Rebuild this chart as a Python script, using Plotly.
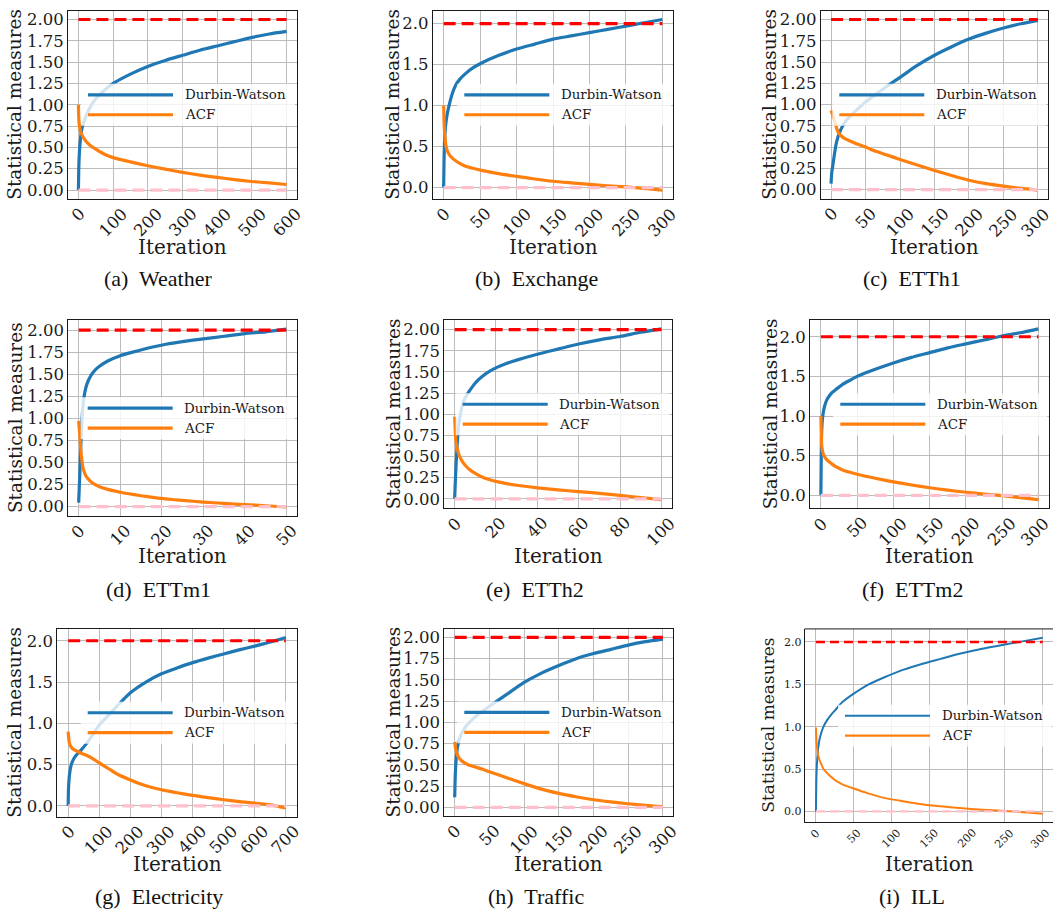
import plotly.graph_objects as go

W, H = 1053, 913
SERIF = "DejaVu Serif"
CAPFONT = "Liberation Serif"

# ---------------- data ----------------
captions = ["(a)\u00a0 Weather", "(b)\u00a0 Exchange", "(c)\u00a0 ETTh1",
            "(d)\u00a0 ETTm1", "(e)\u00a0 ETTh2", "(f)\u00a0 ETTm2",
            "(g)\u00a0 Electricity", "(h)\u00a0 Traffic", "(i)\u00a0 ILL"]
series_names = ["Durbin-Watson", "ACF"]
x_title = "Iteration"
y_title = "Statistical measures"

weather_x = [0, 1, 3, 6, 10, 20, 35, 50, 75, 100, 150, 200, 250, 300, 350, 400, 450, 500, 550, 600]
weather_dw = [0.0, 0.25, 0.45, 0.6, 0.72, 0.85, 0.98, 1.07, 1.17, 1.25, 1.36, 1.45, 1.52, 1.58, 1.64, 1.69, 1.74, 1.79, 1.83, 1.86]
weather_acf = [1.0, 0.85, 0.75, 0.69, 0.65, 0.58, 0.52, 0.48, 0.42, 0.38, 0.33, 0.285, 0.245, 0.207, 0.175, 0.148, 0.123, 0.10, 0.083, 0.065]

exchange_x = [0, 0.5, 1, 2, 3, 5, 8, 12, 16, 22, 30, 40, 52, 75, 100, 125, 150, 175, 200, 225, 250, 275, 300]
exchange_dw = [0.0, 0.3, 0.5, 0.68, 0.78, 0.9, 1.02, 1.15, 1.24, 1.32, 1.39, 1.46, 1.52, 1.61, 1.69, 1.75, 1.81, 1.85, 1.89, 1.93, 1.97, 2.01, 2.05]
exchange_acf = [1.0, 0.85, 0.72, 0.6, 0.52, 0.45, 0.40, 0.36, 0.33, 0.295, 0.26, 0.235, 0.21, 0.17, 0.137, 0.105, 0.077, 0.058, 0.04, 0.022, 0.008, -0.01, -0.03]

etth1_x = [0, 1, 2.5, 5, 7.5, 10, 15, 20, 25, 35, 50, 65, 80, 100, 125, 150, 175, 200, 225, 250, 275, 300]
etth1_dw = [0.07, 0.2, 0.28, 0.42, 0.54, 0.62, 0.72, 0.79, 0.84, 0.92, 1.03, 1.12, 1.21, 1.32, 1.46, 1.58, 1.68, 1.77, 1.84, 1.9, 1.95, 1.99]
etth1_acf = [0.93, 0.91, 0.88, 0.81, 0.74, 0.68, 0.63, 0.6, 0.58, 0.545, 0.50, 0.45, 0.41, 0.355, 0.29, 0.225, 0.165, 0.11, 0.07, 0.04, 0.015, -0.005]

ettm1_x = [0, 0.25, 0.5, 0.75, 1, 1.5, 2, 3, 4, 5, 7, 10, 13, 17, 21, 25, 30, 35, 40, 45, 50]
ettm1_dw = [0.045, 0.35, 0.68, 0.95, 1.12, 1.3, 1.39, 1.49, 1.55, 1.59, 1.65, 1.71, 1.75, 1.80, 1.84, 1.87, 1.90, 1.93, 1.96, 1.98, 2.01]
ettm1_acf = [0.97, 0.82, 0.65, 0.53, 0.45, 0.37, 0.33, 0.28, 0.25, 0.226, 0.195, 0.163, 0.138, 0.11, 0.087, 0.07, 0.052, 0.036, 0.022, 0.01, -0.004]

etth2_x = [0, 0.5, 1, 2, 3, 4, 5, 7, 10, 13, 17, 21, 25, 30, 40, 50, 60, 70, 80, 90, 100]
etth2_dw = [0.0, 0.3, 0.55, 0.88, 1.03, 1.13, 1.19, 1.27, 1.37, 1.44, 1.51, 1.56, 1.6, 1.64, 1.71, 1.77, 1.83, 1.88, 1.92, 1.97, 2.01]
etth2_acf = [0.97, 0.72, 0.62, 0.53, 0.47, 0.43, 0.40, 0.35, 0.30, 0.26, 0.225, 0.20, 0.18, 0.16, 0.13, 0.105, 0.085, 0.065, 0.04, 0.015, -0.01]

ettm2_x = [0, 0.5, 1, 2, 3, 5, 8, 12, 16, 20, 30, 40, 50, 75, 100, 125, 150, 175, 200, 225, 250, 275, 300]
ettm2_dw = [0.0, 0.5, 0.78, 0.95, 1.03, 1.12, 1.2, 1.26, 1.3, 1.33, 1.4, 1.45, 1.5, 1.59, 1.67, 1.74, 1.8, 1.86, 1.91, 1.96, 2.01, 2.05, 2.10]
ettm2_acf = [1.0, 0.8, 0.65, 0.57, 0.53, 0.49, 0.45, 0.42, 0.39, 0.365, 0.32, 0.29, 0.265, 0.215, 0.17, 0.13, 0.095, 0.065, 0.038, 0.015, -0.005, -0.03, -0.055]

electricity_x = [0, 1, 3, 6, 10, 15, 25, 40, 60, 80, 100, 130, 160, 200, 250, 300, 350, 400, 450, 500, 550, 600, 650, 700]
electricity_dw = [0.0, 0.2, 0.33, 0.43, 0.5, 0.55, 0.61, 0.67, 0.76, 0.87, 0.98, 1.10, 1.22, 1.37, 1.50, 1.60, 1.67, 1.735, 1.79, 1.84, 1.89, 1.935, 1.985, 2.04]
electricity_acf = [0.9, 0.85, 0.78, 0.74, 0.71, 0.69, 0.67, 0.64, 0.61, 0.57, 0.52, 0.45, 0.38, 0.315, 0.245, 0.195, 0.16, 0.127, 0.10, 0.075, 0.052, 0.033, 0.012, -0.025]

traffic_x = [0, 0.5, 1, 2, 3.5, 5, 7.5, 10, 15, 20, 30, 40, 50, 75, 100, 125, 150, 175, 200, 225, 250, 275, 300]
traffic_dw = [0.12, 0.3, 0.42, 0.56, 0.68, 0.75, 0.82, 0.87, 0.94, 0.99, 1.07, 1.13, 1.19, 1.33, 1.47, 1.58, 1.67, 1.75, 1.81, 1.86, 1.91, 1.95, 1.98]
traffic_acf = [0.77, 0.74, 0.71, 0.67, 0.63, 0.6, 0.57, 0.55, 0.52, 0.5, 0.475, 0.45, 0.42, 0.35, 0.28, 0.215, 0.165, 0.125, 0.09, 0.065, 0.043, 0.024, 0.008]

ill_x = [0, 0.5, 1, 2, 3, 5, 7.5, 10, 15, 20, 25, 35, 50, 70, 90, 115, 140, 165, 190, 220, 250, 275, 300]
ill_dw = [0.0, 0.35, 0.5, 0.65, 0.75, 0.86, 0.94, 1.0, 1.08, 1.14, 1.19, 1.29, 1.39, 1.5, 1.58, 1.67, 1.74, 1.8, 1.86, 1.92, 1.97, 2.01, 2.05]
ill_acf = [0.99, 0.88, 0.8, 0.71, 0.66, 0.6, 0.55, 0.5, 0.45, 0.41, 0.37, 0.32, 0.27, 0.21, 0.16, 0.12, 0.085, 0.06, 0.04, 0.02, 0.005, -0.01, -0.027]

reference_levels = [2.0, 0.0]

x_tick_steps = [100, 50, 50, 10, 20, 50, 100, 50, 50]
y_tick_steps = [0.25, 0.5, 0.25, 0.25, 0.25, 0.5, 0.5, 0.25, 0.5]

datasets = [
    (weather_x, weather_dw, weather_acf),
    (exchange_x, exchange_dw, exchange_acf),
    (etth1_x, etth1_dw, etth1_acf),
    (ettm1_x, ettm1_dw, ettm1_acf),
    (etth2_x, etth2_dw, etth2_acf),
    (ettm2_x, ettm2_dw, ettm2_acf),
    (electricity_x, electricity_dw, electricity_acf),
    (traffic_x, traffic_dw, traffic_acf),
    (ill_x, ill_dw, ill_acf),
]

# ---------------- layout geometry (pixels) ----------------
# plot boxes: left, right, top, bottom
boxes = [
    (68, 297, 10, 198), (432.7, 673.3, 10, 198), (820.7, 1048.3, 10, 198),
    (68.3, 296.7, 320, 516), (444.3, 671.7, 320, 508.3), (810, 1049.3, 320, 508.3),
    (57.3, 296.7, 629.3, 817.3), (444.3, 673.3, 629.3, 816.7), (804.6, 1054, 629.3, 823.3),
]
ytitle_cx = [15, 393, 770, 15, 393, 770, 15, 393, 768]
xtitle_cy = [246.7] * 3 + [556.7] * 3 + [865] * 3
cap_cx = [158, 536, 912, 158, 535, 912, 159, 536, 912]
cap_cy = [278] * 3 + [590] * 3 + [897] * 3

BLUE, ORANGE, RED, PINK = "#1f77b4", "#ff7f0e", "#ff0000", "#ffc0cb"
GRID = "#bcbcbc"
INK = "#1a1a1a"


def px(x):
    return x / W


def py(y):
    return 1 - y / H


fig = go.Figure()
shapes = []
annotations = []

for i, ((xs, dw, acf), box) in enumerate(zip(datasets, boxes)):
    k = i + 1
    xa = f"x{k}" if k > 1 else "x"
    ya = f"y{k}" if k > 1 else "y"
    last = i == 8
    lw = 2.0 if last else 3.2
    dash = "9px,5px" if last else "12px,6px"
    tfs = 11 if last else 16.5

    n = xs[-1]
    x0r, x1r = -0.05 * n, 1.05 * n
    ymin = min(min(dw), min(acf), min(reference_levels))
    ymax = max(max(dw), max(acf), max(reference_levels))
    pad = 0.05 * (ymax - ymin)
    l, r, t, b = box
    r_vis = min(r, W)
    x1_vis = x0r + (x1r - x0r) * (r_vis - l) / (r - l)
    xticks = list(range(0, int(n) + 1, x_tick_steps[i]))

    fig.add_trace(go.Scatter(x=xs, y=dw, mode="lines", name=series_names[0],
                             line=dict(color=BLUE, width=lw, shape="spline", smoothing=0.6),
                             xaxis=xa, yaxis=ya, showlegend=False))
    fig.add_trace(go.Scatter(x=xs, y=acf, mode="lines", name=series_names[1],
                             line=dict(color=ORANGE, width=lw, shape="spline", smoothing=0.6),
                             xaxis=xa, yaxis=ya, showlegend=False))
    for lev, col in zip(reference_levels, [RED, PINK]):
        fig.add_trace(go.Scatter(x=[xs[0], xs[-1]], y=[lev, lev], mode="lines",
                                 line=dict(color=col, width=lw + (0.4 if last else 0), dash=dash),
                                 xaxis=xa, yaxis=ya, showlegend=False, hoverinfo="skip"))

    axcommon = dict(showgrid=True, gridcolor=GRID, gridwidth=1.2, zeroline=False,
                    showline=True, linecolor=INK, linewidth=1, ticks="",
                    tickfont=dict(family=SERIF, size=tfs, color=INK))
    fig.layout[f"xaxis{k}" if k > 1 else "xaxis"] = dict(
        axcommon, domain=[px(l), px(r_vis)], range=[x0r, x1_vis], anchor=ya,
        tickmode="array", tickvals=xticks, showticklabels=False, mirror=not last)
    fig.layout[f"yaxis{k}" if k > 1 else "yaxis"] = dict(
        axcommon, domain=[py(b), py(t)], range=[ymin - pad, ymax + pad], anchor=xa,
        tick0=0, dtick=y_tick_steps[i],
        tickformat=".2f" if y_tick_steps[i] == 0.25 else ".1f", mirror=not last)
    if last:
        shapes.append(dict(type="line", xref="paper", yref="paper", x0=px(l), x1=1,
                           y0=py(t), y1=py(t), line=dict(color=INK, width=1)))

    # rotated x tick labels, centred under each tick (matplotlib rotation=45)
    for tv in xticks:
        label = str(tv)
        tick_px = l + (tv - x0r) / (x1r - x0r) * (r - l)
        half = (len(label) * 0.636 * tfs + 0.75 * tfs) * 0.707 / 2
        overflow = tick_px + half - (W - 2)
        annotations.append(dict(text=label, xref=xa, yref=f"{ya} domain", x=tv, y=0,
                                xanchor="center", yanchor="top", textangle=-45,
                                xshift=-overflow if overflow > 0 else 0,
                                yshift=-3 if last else -4, showarrow=False, borderpad=0,
                                font=dict(family=SERIF, size=tfs, color=INK)))

    # axis titles and caption
    annotations.append(dict(text=x_title, xref="paper", yref="paper", x=px((l + r) / 2),
                            y=py(xtitle_cy[i]), xanchor="center", yanchor="middle",
                            showarrow=False, font=dict(family=SERIF, size=20, color=INK)))
    annotations.append(dict(text=y_title, xref="paper", yref="paper", x=px(ytitle_cx[i]),
                            y=py((t + b) / 2), xanchor="center", yanchor="middle", textangle=-90,
                            showarrow=False, font=dict(family=SERIF, size=17 if last else 18.5, color=INK)))
    annotations.append(dict(text=captions[i], xref="paper", yref="paper", x=px(cap_cx[i]),
                            y=py(cap_cy[i]), xanchor="center", yanchor="middle",
                            showarrow=False, font=dict(family=CAPFONT, size=22, color="#111")))

    # legend (matplotlib 'center right', framealpha 0.8)
    cy = (t + b) / 2
    shapes.append(dict(type="rect", xref="paper", yref="paper", layer="above",
                       x0=px(r - 216), x1=px(min(r - 2, W)), y0=py(cy + 21), y1=py(cy - 21),
                       fillcolor="rgba(255,255,255,0.8)", line=dict(width=0)))
    for j, (col, dy) in enumerate([(BLUE, -10), (ORANGE, 10)]):
        shapes.append(dict(type="line", xref="paper", yref="paper", layer="above",
                           x0=px(r - 209), x1=px(r - 124), y0=py(cy + dy), y1=py(cy + dy),
                           line=dict(color=col, width=lw + (0.2 if last else 0))))
        annotations.append(dict(text=series_names[j], xref="paper", yref="paper",
                                x=px(r - 114.5), y=py(cy + dy), xanchor="left", yanchor="middle",
                                showarrow=False, font=dict(family=SERIF, size=13.4, color=INK)))

fig.update_layout(width=W, height=H, margin=dict(l=0, r=0, t=0, b=0),
                  paper_bgcolor="white", plot_bgcolor="white",
                  shapes=shapes, annotations=annotations, showlegend=False)

fig.write_html("out.html")
